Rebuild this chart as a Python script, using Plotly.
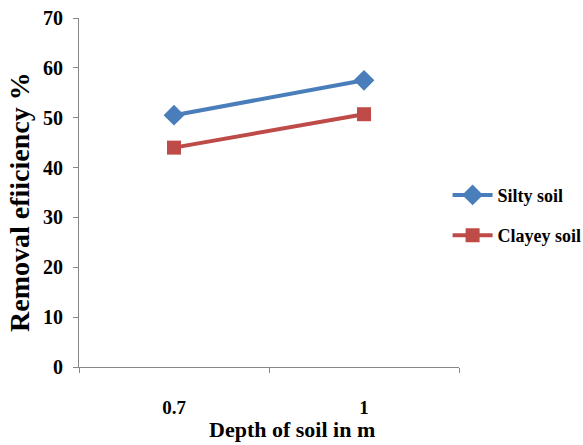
import plotly.graph_objects as go

depth = ["0.7", "1"]
silty = [50.5, 57.5]
clayey = [44.0, 50.7]
y_ticks = [0, 10, 20, 30, 40, 50, 60, 70]

font_family = "Liberation Serif"

fig = go.Figure()
fig.add_trace(go.Scatter(
    x=depth, y=silty, name="Silty soil", mode="lines+markers",
    legendgroup="a",
    line=dict(color="#4A7EBB", width=4),
    marker=dict(symbol="diamond", size=16, color="#4A7EBB"),
))
fig.add_trace(go.Scatter(
    x=depth, y=clayey, name="Clayey soil", mode="lines+markers",
    legendgroup="b",
    line=dict(color="#BE4B48", width=4),
    marker=dict(symbol="square", size=14, color="#BE4B48"),
))

fig.update_layout(
    width=583, height=445,
    margin=dict(l=79, r=124, t=18, b=78, autoexpand=False),
    paper_bgcolor="white", plot_bgcolor="white",
    font=dict(family=font_family, color="black"),
    showlegend=True,
    legend=dict(x=0.97, y=0.435, xanchor="left", yanchor="middle",
                traceorder="grouped",
                font=dict(size=18, family=font_family, color="black", weight="bold"),
                tracegroupgap=14, itemwidth=40, bgcolor="rgba(0,0,0,0)"),
    annotations=[
        dict(text="Depth of soil in m", xref="paper", yref="paper",
             x=(292 - 79) / 380, y=-0.18, xanchor="center", yanchor="middle",
             showarrow=False,
             font=dict(size=22, family=font_family, color="black", weight="bold")),
        dict(text="Removal efiiciency %", xref="paper", yref="paper",
             x=(19 - 79) / 380, y=(367 - 202) / 349, xanchor="center", yanchor="middle",
             textangle=-90, showarrow=False,
             font=dict(size=28, family=font_family, color="black", weight="bold")),
    ],
)

fig.update_xaxes(
    type="category", range=[-0.5, 1.5], tickson="boundaries",
    showline=True, linecolor="#868686", linewidth=1,
    ticks="outside", ticklen=5, tickcolor="#868686",
    showgrid=False, zeroline=False,
    tickfont=dict(size=19, family=font_family, color="black", weight="bold"),
    ticklabelstandoff=23,
)
fig.update_yaxes(
    range=[0, 70], tickvals=y_ticks,
    showline=True, linecolor="#868686", linewidth=1,
    ticks="outside", ticklen=5, tickcolor="#868686",
    showgrid=False, zeroline=False,
    tickfont=dict(size=20, family=font_family, color="black", weight="bold"),
    ticklabelstandoff=6,
)

fig.write_html("out.html")
